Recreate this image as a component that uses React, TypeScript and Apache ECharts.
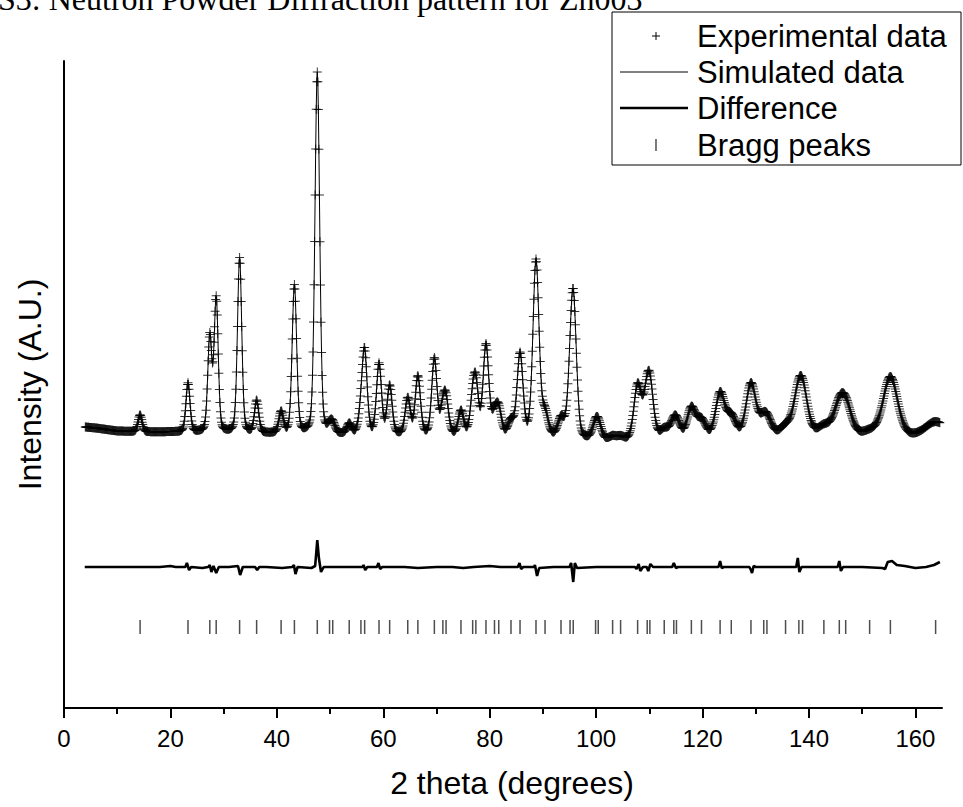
import React, { useEffect, useRef } from "react";
import * as echarts from "echarts";

const TITLE = "S3: Neutron Powder Diffraction pattern for Zn003";
const X_TITLE = "2 theta (degrees)";
const Y_TITLE = "Intensity (A.U.)";
const LEGEND_LABELS = ["Experimental data", "Simulated data", "Difference", "Bragg peaks"];

const X_TICKS = [0, 20, 40, 60, 80, 100, 120, 140, 160];
const X_MINOR_TICKS = [10, 30, 50, 70, 90, 110, 130, 150];

// Bragg reflection positions (2θ, degrees)
const braggPositions = [
  14.3, 23.3, 27.4, 28.6, 33.0, 36.2, 40.8, 43.3, 47.6, 49.9,
  50.5, 53.6, 55.8, 56.5, 59.2, 61.2, 64.6, 66.5, 69.6, 71.2,
  71.8, 74.6, 76.8, 77.4, 79.3, 80.9, 81.7, 84.0, 85.7, 88.7,
  90.4, 93.4, 95.1, 95.7, 99.9, 100.4, 103.1, 104.6, 107.8, 109.6,
  110.1, 112.8, 114.6, 115.1, 117.9, 119.8, 123.3, 125.4, 129.1, 131.5,
  132.1, 135.6, 138.1, 138.8, 142.8, 145.7, 146.9, 151.4, 155.3, 163.8,
];
// Peak heights above background (A.U.), one per reflection
const peakHeights = [
  17, 49, 95, 133, 175, 32, 21, 148, 362, 6,
  9, 10, 18, 80, 70, 48, 36, 58, 76, 22,
  30, 24, 28, 45, 90, 18, 24, 14, 82, 176,
  22, 18, 20, 138, 12, 13, 4, 4, 54, 30,
  42, 9, 11, 13, 30, 17, 44, 20, 53, 11,
  13, 9, 32, 32, 9, 24, 26, 5, 60, 14,
];
// Peak full widths at half maximum (degrees)
const peakWidths = [
  0.9, 0.9, 0.9, 0.9, 0.95, 0.95, 1.0, 1.0, 1.05, 1.05,
  1.05, 1.05, 1.1, 1.1, 1.1, 1.1, 1.15, 1.15, 1.15, 1.2,
  1.2, 1.2, 1.2, 1.2, 1.25, 1.25, 1.25, 1.3, 1.3, 1.35,
  1.35, 1.4, 1.4, 1.4, 1.5, 1.5, 1.55, 1.6, 1.65, 1.7,
  1.7, 1.75, 1.8, 1.8, 1.85, 1.9, 2.0, 2.05, 2.15, 2.2,
  2.2, 2.35, 2.45, 2.45, 2.6, 2.75, 2.8, 3.1, 3.2, 4.5,
];
const LORENTZ_FRACTION = 0.25;

// Background level (A.U.) of the pattern
const backgroundAngles = [4, 6, 10, 15, 20, 30, 40, 50, 60, 70, 80, 90, 100, 105, 110, 120, 130, 140, 150, 160, 165];
const backgroundLevels = [281, 280, 277, 276, 276, 275, 274, 273, 273, 272, 271, 270, 267, 266, 267, 269, 270, 271, 270, 271, 272];

const SCAN_START = 4.0;
const SCAN_END = 164.6;
const SCAN_STEP = 0.1;

const differenceAngles = [
  3.9, 18, 20, 21, 22.8, 23.1, 23.5, 23.9, 26, 27.1, 27.4, 27.7, 28.1, 28.6, 29.1, 31, 32.7, 33.1, 33.6, 35.9,
  36.3, 36.7, 38, 41, 42.9, 43.2, 43.5, 43.9, 46.5, 47.2, 47.6, 47.9, 48.3, 48.8, 52, 56.1, 56.3, 56.6, 57, 58.8,
  59.1, 59.4, 59.8, 64, 66.5, 70, 73, 75, 77, 80, 82, 85.3, 85.6, 85.9, 86.3, 88.3, 88.5, 88.9, 89.3, 92,
  95.0, 95.3, 95.7, 96, 96.4, 100, 103, 107.3, 107.6, 108, 108.3, 108.8, 109.5, 109.8, 110.2, 110.7, 114.3, 114.6, 115, 115.4,
  117, 123.0, 123.3, 123.6, 124, 126, 128.8, 129.1, 129.3, 129.6, 130, 132, 137.6, 137.9, 138.2, 138.6, 142, 145.4, 145.7, 146,
  146.4, 150, 153.8, 154.3, 154.8, 155.6, 156.5, 158, 160, 162, 163.5, 164.6,
];
const differenceValues = [
  141, 141, 142, 141, 141, 145, 138, 141, 140, 141, 143, 136, 142, 135, 141, 141, 142, 133, 141, 141,
  138, 141, 141, 140, 141, 143, 134, 141, 140, 142, 168, 150, 136, 141, 141, 141, 143, 138, 141, 141,
  145, 139, 141, 141, 140, 141, 141, 140, 141, 142, 141, 141, 145, 139, 141, 141, 143, 132, 140, 141,
  141, 145, 126, 145, 140, 141, 141, 141, 139, 144, 137, 141, 141, 137, 144, 141, 141, 145, 140, 141,
  141, 141, 147, 140, 141, 141, 141, 138, 135, 142, 141, 141, 141, 150, 136, 141, 141, 141, 147, 137,
  141, 141, 140, 139, 146, 147, 143, 142, 140, 141, 143, 146,
];
const BRAGG_LEVEL = 81;
const Y_MIN = 0;
const Y_MAX = 647;

function backgroundAt(t: number): number {
  for (let i = 0; i < backgroundAngles.length - 1; i++) {
    const a = backgroundAngles[i], b = backgroundAngles[i + 1];
    if (t >= a && t <= b) {
      const f = (t - a) / (b - a);
      return backgroundLevels[i] + f * (backgroundLevels[i + 1] - backgroundLevels[i]);
    }
  }
  return backgroundLevels[backgroundLevels.length - 1];
}

function profileAt(t: number): number {
  let y = backgroundAt(t);
  for (let k = 0; k < braggPositions.length; k++) {
    const h = peakWidths[k];
    const dx = t - braggPositions[k];
    if (Math.abs(dx) > 15 * h) continue;
    const u = (dx / h) * (dx / h);
    const g = Math.exp(-4 * Math.LN2 * u);
    const l = 1 / (1 + 4 * u);
    y += peakHeights[k] * (LORENTZ_FRACTION * l + (1 - LORENTZ_FRACTION) * g);
  }
  return y;
}

const FONT = "'Liberation Sans', Arial, sans-serif";
const PLUS = "path://M0,4H9V5H0Z M4,0H5V9H4Z";

export default function App() {
  const ref = useRef<HTMLDivElement>(null);
  useEffect(() => {
    if (!ref.current) return;
    const chart = echarts.init(ref.current, undefined, { renderer: "svg" });

    const profile: number[][] = [];
    const n = Math.round((SCAN_END - SCAN_START) / SCAN_STEP);
    for (let i = 0; i <= n; i++) {
      const t = +(SCAN_START + i * SCAN_STEP).toFixed(2);
      profile.push([t, profileAt(t)]);
    }
    const diff = differenceAngles.map((a, i) => [a, differenceValues[i]]);
    const bragg = braggPositions.map((p) => [p, BRAGG_LEVEL]);

    const lx0 = 612, ly0 = 12;
    const rows = [36, 72, 108, 145];

    chart.setOption({
      animation: false,
      backgroundColor: "#fff",
      grid: { left: 64, right: 21, top: 61, bottom: 99 },
      xAxis: [
        {
          type: "value", min: 0, max: 165, position: "bottom",
          name: X_TITLE, nameLocation: "middle", nameGap: 59,
          nameTextStyle: { fontFamily: FONT, fontSize: 32, color: "#000", padding: [0, 0, 0, 18] },
          axisLine: { show: true, lineStyle: { color: "#000", width: 2 } },
          axisTick: { show: true, customValues: X_TICKS, length: 10, lineStyle: { color: "#000", width: 2 } },
          axisLabel: { customValues: X_TICKS, margin: 18, fontFamily: FONT, fontSize: 24, color: "#000" },
          splitLine: { show: false },
        },
        {
          type: "value", min: 0, max: 165, position: "bottom",
          axisLine: { show: false },
          axisTick: { show: true, customValues: X_MINOR_TICKS, length: 6, lineStyle: { color: "#000", width: 2 } },
          axisLabel: { show: false },
          splitLine: { show: false },
        },
      ],
      yAxis: {
        type: "value", min: Y_MIN, max: Y_MAX,
        name: Y_TITLE, nameLocation: "middle", nameGap: 18, nameRotate: 90,
        nameTextStyle: { fontFamily: FONT, fontSize: 32, color: "#000" },
        axisLine: { show: true, lineStyle: { color: "#000", width: 2 } },
        axisTick: { show: false },
        axisLabel: { show: false },
        splitLine: { show: false },
      },
      series: [
        {
          name: LEGEND_LABELS[0], type: "scatter", data: profile,
          symbol: PLUS, symbolSize: 9, itemStyle: { color: "#000" }, z: 2,
        },
        {
          name: LEGEND_LABELS[1], type: "line", data: profile, showSymbol: false,
          lineStyle: { color: "#000", width: 1 }, z: 3,
        },
        {
          name: LEGEND_LABELS[2], type: "line", data: diff, showSymbol: false,
          lineStyle: { color: "#000", width: 2.6 }, z: 3,
        },
        {
          name: LEGEND_LABELS[3], type: "scatter", data: bragg,
          symbol: "rect", symbolSize: [1.5, 14], itemStyle: { color: "#222" }, z: 3,
        },
      ],
      graphic: [
        {
          type: "text", x: -2, y: -1,
          style: { text: TITLE, font: "32px 'Liberation Serif', 'Times New Roman', serif", fill: "#000", verticalAlign: "middle" },
        },
        {
          type: "rect", shape: { x: lx0, y: ly0, width: 349, height: 153 },
          style: { fill: "#fff", stroke: "#000", lineWidth: 1 }, z: 10,
        },
        { type: "line", shape: { x1: 652, y1: rows[0], x2: 660, y2: rows[0] }, style: { stroke: "#000", lineWidth: 1 }, z: 11 },
        { type: "line", shape: { x1: 656, y1: rows[0] - 4, x2: 656, y2: rows[0] + 4 }, style: { stroke: "#000", lineWidth: 1 }, z: 11 },
        { type: "line", shape: { x1: 620, y1: rows[1], x2: 688, y2: rows[1] }, style: { stroke: "#000", lineWidth: 1 }, z: 11 },
        { type: "line", shape: { x1: 620, y1: rows[2], x2: 688, y2: rows[2] }, style: { stroke: "#000", lineWidth: 2.6 }, z: 11 },
        { type: "line", shape: { x1: 656, y1: rows[3] - 6, x2: 656, y2: rows[3] + 6 }, style: { stroke: "#333", lineWidth: 1.3 }, z: 11 },
        ...LEGEND_LABELS.map((label, i) => ({
          type: "text", x: 697, y: rows[i], z: 11,
          style: { text: label, font: `31px ${FONT}`, fill: "#000", verticalAlign: "middle" },
        })),
      ],
    });
    return () => chart.dispose();
  }, []);
  return <div ref={ref} style={{ position: "absolute", left: 0, top: 0, width: 963, height: 807 }} />;
}
